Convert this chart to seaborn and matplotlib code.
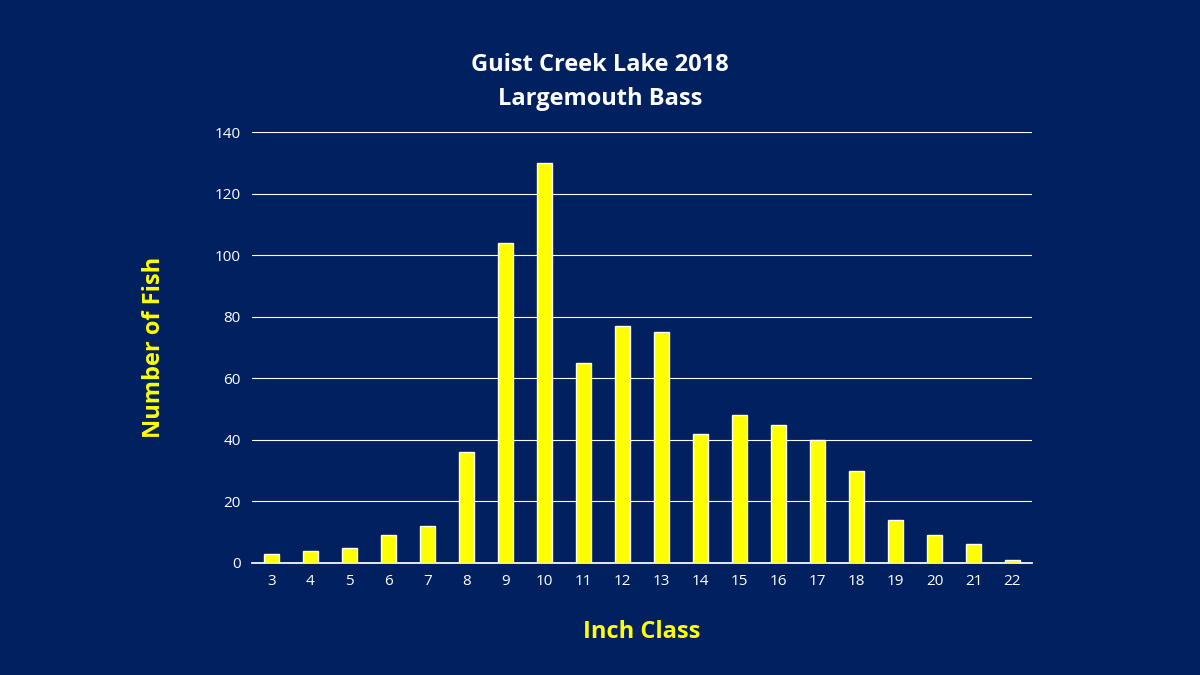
import matplotlib
matplotlib.use("Agg")
import matplotlib.pyplot as plt
import seaborn as sns
import pandas as pd

inch_class = [str(i) for i in range(3, 23)]
counts = [3, 4, 5, 9, 12, 36, 104, 130, 65, 77, 75, 42, 48, 45, 40, 30, 14, 9, 6, 1]

bg = "#002060"
sns.set_theme(style="white")
plt.rcParams['font.family'] = ['Open Sans', 'DejaVu Sans']

fig = plt.figure(figsize=(12, 6.75), dpi=100, facecolor=bg)
ax = fig.add_axes([0.21, 0.166, 0.65, 0.638], facecolor=bg)
df = pd.DataFrame({"c": inch_class, "n": counts})
sns.barplot(data=df, x="c", y="n", color="#FFFF00", saturation=1, width=0.36, ax=ax, zorder=3)
ax.set_ylim(0, 140)
ax.set_yticks(range(0, 141, 20))
ax.grid(axis="y", color="white", linewidth=0.8, zorder=0)
ax.set_axisbelow(True)
for s in ["top", "right", "left"]:
    ax.spines[s].set_visible(False)
ax.spines["bottom"].set_color("white")
ax.tick_params(colors="white", labelsize=11, length=0, pad=8)
ax.set_xlabel("Inch Class", color="#FFFF00", fontsize=17, fontweight="bold", labelpad=22)
ax.set_ylabel("Number of Fish", color="#FFFF00", fontsize=17, fontweight="bold", labelpad=35)
fig.text(0.5, 0.895, "Guist Creek Lake 2018", color="white", fontsize=17, fontweight="bold", ha="center")
fig.text(0.5, 0.845, "Largemouth Bass", color="white", fontsize=17, fontweight="bold", ha="center")
fig.savefig("out.png", dpi=100, facecolor=bg)
